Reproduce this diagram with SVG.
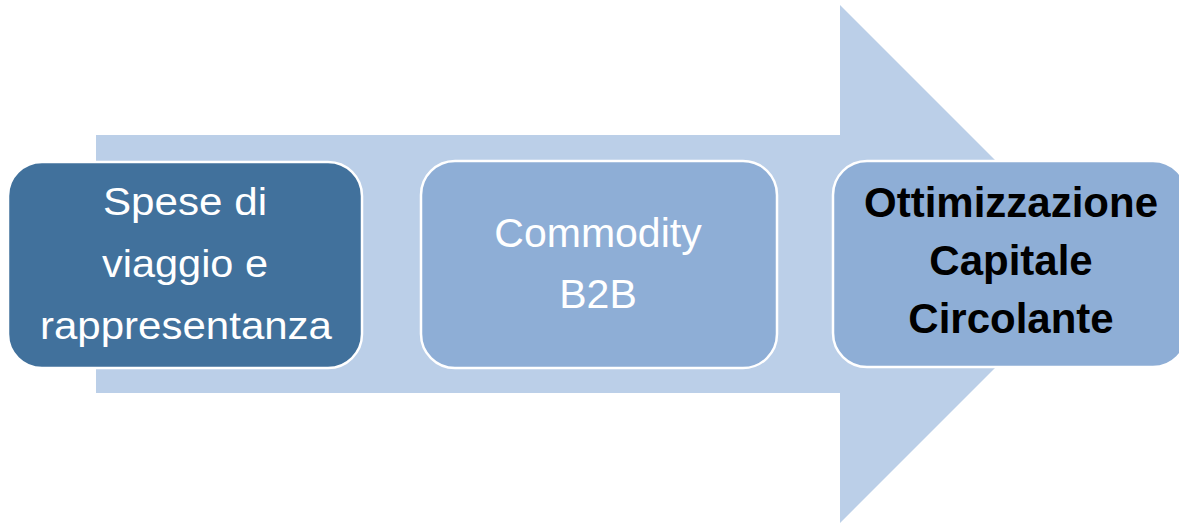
<svg xmlns="http://www.w3.org/2000/svg" width="1179" height="524" viewBox="0 0 1179 524">
  <style>
    .box { stroke: #ffffff; stroke-width: 2.5; }
    .dark { fill: #41719c; }
    .light { fill: #8eaed6; }
    .lbl { font-family: "Liberation Sans", Arial, sans-serif; text-anchor: middle; }
    .white { fill: #ffffff; }
    .bold { fill: #000000; font-weight: bold; font-size: 42px; }
  </style>
  <rect width="1179" height="524" fill="#ffffff"/>
  <g id="connectors">
    <polygon points="96,135 840,135 840,5 1099,264 840,523 840,393 96,393" fill="#bbcfe8"/>
  </g>
  <g id="node-spese">
    <rect class="box dark" x="8" y="162" width="354" height="206" rx="34" ry="34"/>
    <text class="lbl white" font-size="38" x="185" y="215" textLength="164" lengthAdjust="spacingAndGlyphs">Spese di</text>
    <text class="lbl white" font-size="38" x="185" y="277" textLength="166" lengthAdjust="spacingAndGlyphs">viaggio e</text>
    <text class="lbl white" font-size="38" x="186" y="339" textLength="292" lengthAdjust="spacingAndGlyphs">rappresentanza</text>
  </g>
  <g id="node-commodity">
    <rect class="box light" x="421" y="161" width="356" height="207" rx="34" ry="34"/>
    <text class="lbl white" font-size="41" x="598" y="247">Commodity</text>
    <text class="lbl white" font-size="41" x="598" y="308">B2B</text>
  </g>
  <g id="node-ottimizzazione">
    <rect class="box light" x="833" y="161" width="354" height="206" rx="34" ry="34"/>
    <text class="lbl bold" x="1011" y="217">Ottimizzazione</text>
    <text class="lbl bold" x="1011" y="275">Capitale</text>
    <text class="lbl bold" x="1011" y="333">Circolante</text>
  </g>
</svg>
